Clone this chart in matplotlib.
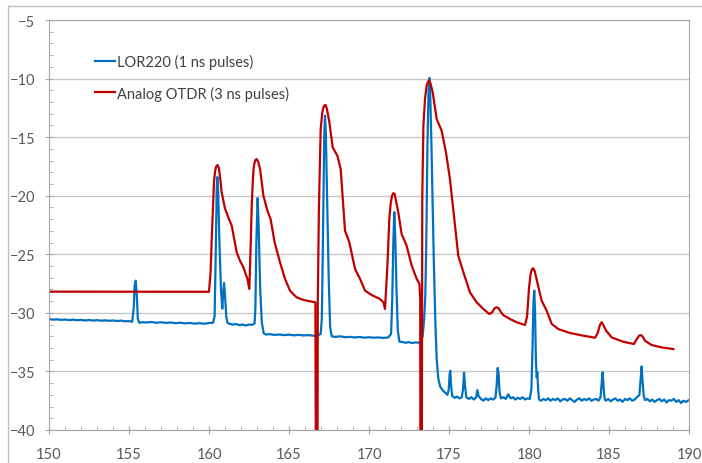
import matplotlib
matplotlib.use("Agg")
import matplotlib.pyplot as plt
from matplotlib.patches import Rectangle
from matplotlib.ticker import MultipleLocator

# LOR220 trace (1 ns pulses)
lor_x = [150.0, 150.25, 150.5, 150.75, 151.0, 151.25, 151.5, 151.75, 152.0, 152.25,
         152.5, 152.75, 153.0, 153.25, 153.5, 153.75, 154.0, 154.25, 154.5, 154.75,
         155.0, 155.2, 155.3, 155.35, 155.42, 155.5, 155.55, 155.65, 155.8,
         156.1, 156.4, 156.7, 157.0, 157.3, 157.6, 157.9, 158.2, 158.5, 158.8,
         159.1, 159.4, 159.7, 160.0, 160.25,
         160.35, 160.42, 160.48, 160.52, 160.57, 160.65, 160.75, 160.83, 160.88, 160.94,
         161.0, 161.08, 161.15, 161.3,
         161.5, 161.7, 161.9, 162.1, 162.3, 162.5, 162.7, 162.85,
         162.9, 162.96, 163.04, 163.1, 163.2, 163.3, 163.42, 163.55,
         163.8, 164.1, 164.4, 164.7, 165.0, 165.3, 165.6, 165.9, 166.2, 166.5, 166.8, 166.98,
         167.05, 167.12, 167.2, 167.25, 167.3, 167.38, 167.48, 167.57, 167.67,
         167.9, 168.2, 168.5, 168.8, 169.1, 169.4, 169.7, 170.0, 170.3, 170.6, 170.9, 171.2, 171.38,
         171.45, 171.52, 171.58, 171.64, 171.72, 171.8, 171.9,
         172.1, 172.3, 172.5, 172.7, 172.9, 173.1, 173.25,
         173.35, 173.45, 173.52, 173.58, 173.65, 173.72, 173.77, 173.82, 173.9, 173.98,
         174.05, 174.15, 174.23, 174.33, 174.45, 174.6, 174.75, 174.9,
         174.98, 175.04, 175.08, 175.13, 175.2, 175.35, 175.5, 175.65, 175.8,
         175.88, 175.94, 176.0, 176.08, 176.25, 176.4, 176.55, 176.7, 176.77, 176.85,
         177.0, 177.15, 177.3, 177.45, 177.6, 177.75, 177.9,
         177.98, 178.04, 178.1, 178.16, 178.25, 178.4, 178.55, 178.7, 178.85, 179.0,
         179.15, 179.3, 179.45, 179.6, 179.75, 179.9, 180.05,
         180.15, 180.22, 180.28, 180.33, 180.38, 180.43, 180.48, 180.52, 180.57, 180.63,
         180.75, 180.9, 181.05, 181.2, 181.35, 181.5, 181.65, 181.8, 181.95, 182.1,
         182.25, 182.4, 182.55, 182.7, 182.85, 183.0, 183.15, 183.3, 183.45, 183.6,
         183.75, 183.9, 184.05, 184.2, 184.35, 184.47,
         184.53, 184.6, 184.66, 184.72, 184.8,
         184.95, 185.1, 185.25, 185.4, 185.55, 185.7, 185.85, 186.0, 186.15, 186.3,
         186.45, 186.6, 186.75, 186.9,
         186.97, 187.04, 187.1, 187.17, 187.25,
         187.4, 187.55, 187.7, 187.85, 188.0, 188.15, 188.3, 188.45, 188.6, 188.75,
         188.9, 189.05, 189.2, 189.35, 189.5, 189.65, 189.8, 190.0]
lor_y = [-30.52, -30.58, -30.55, -30.6, -30.57, -30.62, -30.58, -30.63, -30.6, -30.65,
         -30.61, -30.66, -30.62, -30.67, -30.64, -30.68, -30.65, -30.7, -30.66, -30.72,
         -30.7, -30.76, -29.5, -27.7, -27.25, -28.8, -30.5, -30.85, -30.8,
         -30.82, -30.78, -30.85, -30.8, -30.86, -30.82, -30.88, -30.84, -30.9, -30.86,
         -30.92, -30.88, -30.93, -30.87, -30.85,
         -30.3, -25.0, -19.5, -18.4, -19.5, -24.0, -28.0, -29.65, -28.5, -27.45,
         -28.5, -30.3, -30.85, -30.95,
         -31.0, -30.95, -31.05, -31.0, -31.08, -31.0, -31.02, -30.9,
         -29.5, -24.0, -20.2, -22.5, -28.0, -30.8, -31.75, -31.85,
         -31.82, -31.88, -31.85, -31.9, -31.86, -31.92, -31.88, -31.93, -31.9, -31.95, -31.92, -31.8,
         -30.5, -24.0, -15.0, -13.17, -14.5, -20.0, -27.0, -31.2, -32.0,
         -32.05, -32.0, -32.08, -32.05, -32.1, -32.06, -32.12, -32.08, -32.12, -32.1, -32.14, -32.1, -31.8,
         -29.0, -24.0, -21.4, -23.5, -28.0, -31.5, -32.45,
         -32.5, -32.55, -32.5, -32.58, -32.52, -32.55, -32.45,
         -32.0, -30.5, -28.5, -24.0, -16.0, -11.0, -9.95, -11.0, -15.5, -21.0,
         -25.5, -31.0, -33.9, -35.6, -36.3, -36.6, -36.8, -37.0,
         -36.6, -35.2, -34.95, -36.2, -37.1, -37.25, -37.15, -37.3, -37.2,
         -36.5, -35.1, -36.2, -37.2, -37.35, -37.2, -37.4, -37.2, -36.6, -37.1,
         -37.35, -37.5, -37.3, -37.45, -37.3, -37.4, -37.25,
         -36.2, -34.7, -35.2, -36.8, -37.3, -37.2, -37.35, -36.95, -37.3, -37.2,
         -37.4, -37.25, -37.35, -37.2, -37.4, -37.3, -37.35,
         -36.5, -33.0, -29.0, -28.1, -30.0, -34.0, -35.5, -35.06, -36.5, -37.4,
         -37.5, -37.35, -37.45, -37.3, -37.5, -37.35, -37.45, -37.3, -37.55, -37.4,
         -37.35, -37.5, -37.3, -37.45, -37.6, -37.4, -37.3, -37.5, -37.35, -37.45,
         -37.3, -37.5, -37.4, -37.35, -37.5, -37.2,
         -36.2, -35.08, -36.3, -37.3, -37.5,
         -37.35, -37.55, -37.4, -37.3, -37.5, -37.4, -37.6, -37.35, -37.45, -37.3,
         -37.5, -37.4, -37.2, -37.0,
         -35.8, -34.57, -35.9, -37.1, -37.45,
         -37.35, -37.55, -37.4, -37.6, -37.45, -37.35, -37.55, -37.4, -37.65, -37.45,
         -37.5, -37.35, -37.6, -37.45, -37.7, -37.5, -37.6, -37.45]

# Analog OTDR trace (3 ns pulses); the -60 values are the dropouts below the axis
otdr_x = [150.0, 160.0, 160.1, 160.17, 160.31, 160.38, 160.45, 160.54, 160.62, 160.7,
          160.79, 161.0, 161.21, 161.42, 161.73, 161.95, 162.15, 162.4, 162.52, 162.6,
          162.67, 162.75, 162.81, 162.9, 162.98, 163.07, 163.19, 163.4, 163.65, 163.85,
          164.1, 164.44, 164.75, 165.06, 165.3, 165.48, 165.8, 166.1, 166.65, 166.71,
          166.76, 166.8, 166.87, 166.98, 167.08, 167.15, 167.22, 167.29, 167.37, 167.52,
          167.73, 168.02, 168.23, 168.5, 168.77, 169.13, 169.44, 169.75, 170.17, 170.69,
          170.9, 171.0, 171.15, 171.27, 171.36, 171.44, 171.52, 171.6, 171.68, 171.83,
          172.04, 172.35, 172.67, 172.98, 173.15, 173.2, 173.23, 173.28, 173.33, 173.4,
          173.5, 173.6, 173.7, 173.77, 173.85, 173.98, 174.23, 174.54, 174.81, 175.06,
          175.38, 175.58, 175.9, 176.31, 176.73, 177.15, 177.52, 177.7, 177.85, 177.98,
          178.1, 178.25, 178.4, 178.81, 179.23, 179.75, 179.88, 180.0, 180.1, 180.19,
          180.27, 180.36, 180.52, 180.79, 181.1, 181.42, 181.83, 182.56, 183.4, 184.13,
          184.3, 184.44, 184.54, 184.65, 184.81, 185.17, 185.9, 186.56, 186.73, 186.88,
          187.0, 187.12, 187.25, 187.67, 188.29, 189.02]
otdr_y = [-28.19, -28.2, -26.5, -23.7, -18.86, -17.9, -17.5, -17.38, -17.65, -18.5,
          -19.7, -21.1, -21.85, -22.56, -24.83, -25.6, -26.1, -27.1, -27.96, -24.5,
          -20.85, -18.4, -17.4, -16.95, -16.87, -17.1, -17.7, -20.0, -21.28, -22.0,
          -23.98, -25.7, -27.1, -28.1, -28.45, -28.67, -28.85, -28.96, -29.1, -60.0,
          -60.0, -29.0, -21.0, -14.3, -12.9, -12.46, -12.28, -12.26, -12.6, -13.7,
          -15.87, -16.58, -17.72, -22.98, -23.98, -26.26, -27.1, -28.1, -28.48, -28.82,
          -29.1, -29.67, -25.97, -21.99, -20.6, -20.0, -19.78, -19.85, -20.4, -21.42,
          -23.27, -24.26, -25.97, -27.1, -27.5, -28.8, -60.0, -60.0, -20.0, -14.0,
          -11.74, -10.6, -10.25, -10.18, -10.45, -11.17, -13.45, -14.45, -16.3, -18.58,
          -22.56, -25.12, -26.54, -28.25, -29.1, -29.67, -30.1, -29.95, -29.6, -29.53,
          -29.6, -29.95, -30.2, -30.52, -30.8, -31.04, -30.3, -27.9, -26.7, -26.25,
          -26.2, -26.45, -27.4, -28.96, -29.8, -30.95, -31.38, -31.72, -31.95, -32.12,
          -31.7, -31.0, -30.8, -31.05, -31.5, -32.1, -32.47, -32.66, -32.25, -31.95,
          -31.9, -32.05, -32.38, -32.75, -32.95, -33.09]

x_ticks = [150, 155, 160, 165, 170, 175, 180, 185, 190]
y_ticks = [-40, -35, -30, -25, -20, -15, -10, -5]

plt.rcParams['font.family'] = ['Lato', 'DejaVu Sans']
text_color = '#595959'

fig = plt.figure(figsize=(7.02, 4.64), dpi=100)
ax = fig.add_axes([49 / 702, 1 - 431 / 464, 640 / 702, 410 / 464])

# chart area border (only top and left edges are visible in the crop)
fig.add_artist(Rectangle((8 / 702, -0.1), 1.2, 1 - 7 / 464 + 0.1,
                         transform=fig.transFigure, fill=False,
                         edgecolor='#bfbfbf', linewidth=1.0))

ax.plot(lor_x, lor_y, color='#0070C0', linewidth=1.6, label='LOR220 (1 ns pulses)')
ax.plot(otdr_x, otdr_y, color='#C00000', linewidth=1.6, label='Analog OTDR (3 ns pulses)')

ax.set_xlim(150, 190)
ax.set_ylim(-40, -5)
ax.set_xticks(x_ticks)
ax.set_yticks(y_ticks)
ax.xaxis.set_minor_locator(MultipleLocator(1))
ax.yaxis.set_minor_locator(MultipleLocator(1))
ax.grid(axis='y', which='major', color='#c8c8c8', linewidth=1.0)
ax.set_axisbelow(True)

for side in ['top', 'right', 'left', 'bottom']:
    ax.spines[side].set_color('#a6a6a6')
ax.tick_params(which='major', direction='inout', length=6, color='#a6a6a6',
               labelsize=10.5, labelcolor=text_color)
ax.tick_params(axis='x', which='major', pad=9)
ax.tick_params(axis='y', which='major', pad=7)
ax.tick_params(which='minor', direction='in', length=3, color='#a6a6a6')

leg = ax.legend(loc='upper left', bbox_to_anchor=(0.052, 0.95), frameon=False,
                handlelength=1.35, handletextpad=0.15, labelspacing=1.15,
                fontsize=10.5)
for t in leg.get_texts():
    t.set_color('#404040')

fig.savefig('out.png', dpi=100)
